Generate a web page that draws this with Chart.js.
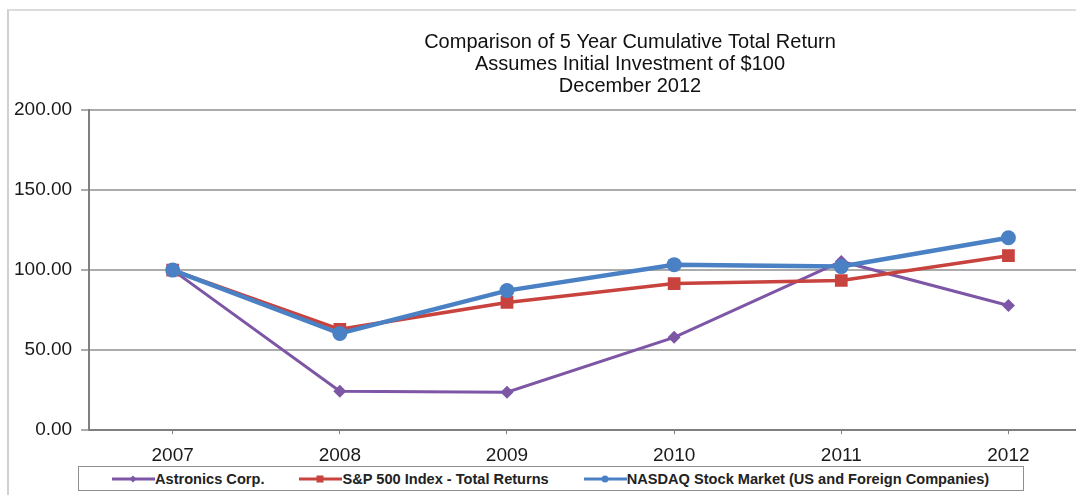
<!DOCTYPE html>
<html>
<head>
<meta charset="utf-8">
<title>Comparison of 5 Year Cumulative Total Return</title>
<script src="https://cdn.jsdelivr.net/npm/chart.js@4/dist/chart.umd.min.js"></script>
<style>
  html, body { margin: 0; padding: 0; background: #fff; overflow: hidden; }
  #wrap { position: relative; width: 1076px; height: 495px; overflow: hidden; }
  #frame {
    position: absolute; left: 7px; top: 9px; right: -10px; bottom: -10px;
    border-top: 2px solid #dcdcdc; border-left: 2px solid #d0d0d0;
  }
  #chart { position: absolute; left: 0; top: 0; }
  #legend {
    position: absolute; left: 78px; top: 466px; width: 946px; height: 25px;
    border: 1px solid #8f8f8f; background: #fff;
    display: flex; align-items: center; padding-left: 33px; box-sizing: border-box;
    font-family: "Liberation Sans", Arial, sans-serif; font-size: 14.6px; font-weight: bold; color: #222;
  }
  #legend .item { display: flex; align-items: center; margin-right: 35px; white-space: nowrap; }
</style>
</head>
<body>
<div id="wrap">
  <div id="frame"></div>
  <canvas id="chart" width="1255" height="495"></canvas>
  <div id="legend"></div>
</div>
<script>
// chart data
var years = ['2007', '2008', '2009', '2010', '2011', '2012'];
var astronics = [100, 24.3, 23.7, 58.0, 105.4, 77.9];
var sp500 = [100, 63.0, 79.8, 91.6, 93.5, 109.0];
var nasdaq = [100, 60.4, 87.2, 103.4, 102.2, 120.2];
var seriesNames = ['Astronics Corp.', 'S&P 500 Index - Total Returns', 'NASDAQ Stock Market (US and Foreign Companies)'];
var titleLines = ['Comparison of 5 Year Cumulative Total Return', 'Assumes Initial Investment of $100', 'December 2012'];

var purple = '#7d56a6';
var red = '#c8423e';
var blue = '#4a80c4';
var font = '"Liberation Sans", Arial, sans-serif';

var datasets = [
  { label: seriesNames[0], data: astronics, borderColor: purple, backgroundColor: purple,
    borderWidth: 3, pointStyle: 'rectRot', pointRadius: 6.5, order: 3 },
  { label: seriesNames[1], data: sp500, borderColor: red, backgroundColor: red,
    borderWidth: 3.5, pointStyle: 'rect', pointRadius: 9, order: 2 },
  { label: seriesNames[2], data: nasdaq, borderColor: blue, backgroundColor: blue,
    borderWidth: 4.5, pointStyle: 'circle', pointRadius: 7.5, order: 1 }
];
datasets.forEach(function (d) {
  d.tension = 0;
  d.pointBorderWidth = 0;
  d.pointHoverRadius = d.pointRadius;
});

new Chart(document.getElementById('chart').getContext('2d'), {
  type: 'line',
  data: { labels: years, datasets: datasets },
  options: {
    responsive: false,
    animation: false,
    layout: { padding: { left: 5, right: 0, top: 0, bottom: 18 } },
    plugins: {
      legend: { display: false },
      tooltip: { enabled: false },
      title: {
        display: true,
        text: titleLines,
        color: '#111',
        font: { family: font, size: 20, weight: 'normal', lineHeight: 1.1 },
        padding: { top: 31, bottom: 13 }
      }
    },
    scales: {
      x: {
        offset: true,
        grid: { display: true, drawOnChartArea: false, tickLength: 4, color: '#808080', lineWidth: 1 },
        border: { color: '#7f7f7f', width: 2 },
        ticks: { color: '#1a1a1a', padding: 10, font: { family: font, size: 19 } }
      },
      y: {
        min: 0,
        max: 200,
        ticks: {
          stepSize: 50,
          color: '#1a1a1a',
          padding: 9,
          font: { family: font, size: 19 },
          callback: function (v) { return v.toFixed(2); }
        },
        grid: { color: '#ababab', lineWidth: 2, tickLength: 8 },
        border: { color: '#7f7f7f', width: 2 }
      },
      // empty space on the right (the reference is cut off there)
      yRight: {
        type: 'linear',
        position: 'right',
        grid: { display: false },
        border: { display: false },
        ticks: { display: false },
        afterFit: function (scale) { scale.width = 163; }
      }
    }
  }
});

// legend box below the chart
var shapes = ['diamond', 'square', 'circle'];
var colors = [purple, red, blue];
var legend = document.getElementById('legend');
seriesNames.forEach(function (name, i) {
  var c = colors[i];
  var mark;
  if (shapes[i] === 'diamond') mark = '<polygon points="21,2.5 24.5,6 21,9.5 17.5,6" fill="' + c + '"/>';
  else if (shapes[i] === 'square') mark = '<rect x="17.5" y="2.5" width="7" height="7" fill="' + c + '"/>';
  else mark = '<circle cx="21" cy="6" r="3.5" fill="' + c + '"/>';
  var item = document.createElement('div');
  item.className = 'item';
  item.innerHTML = '<svg width="43" height="12"><line x1="0" y1="6" x2="43" y2="6" stroke="' + c +
    '" stroke-width="3"/>' + mark + '</svg><span></span>';
  item.querySelector('span').textContent = name;
  legend.appendChild(item);
});
</script>
</body>
</html>
